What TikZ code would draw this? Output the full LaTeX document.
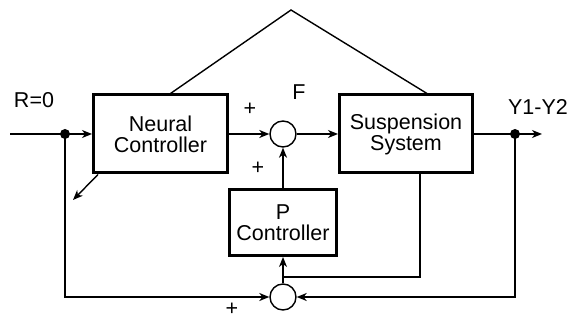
\documentclass[tikz,border=0pt]{standalone}
\usepackage{fontspec}
\setmainfont{Liberation Sans}
\usetikzlibrary{arrows.meta}

\begin{document}
\begin{tikzpicture}[x=1pt,y=-1pt,
  block/.style={draw,line width=3pt,align=center,inner sep=0pt},
  sumnode/.style={draw,circle,line width=1.4pt,minimum size=26pt,inner sep=0pt},
  dot/.style={circle,fill,inner sep=0pt,minimum size=10pt},
  >={Stealth[length=10pt,width=8pt,inset=3pt]},
  line width=1.4pt,
  font=\fontsize{21.5}{21}\selectfont]
  \useasboundingbox (0,0) rectangle (570,320);
  \node[block,minimum width=134pt,minimum height=78pt] (nc) at (160.5,134) {Neural\\Controller};
  \node[block,minimum width=133pt,minimum height=78pt] (ss) at (406,134) {Suspension\\System};
  \node[block,minimum width=107pt,minimum height=66pt] (pc) at (283,222.5) {P\\Controller};
  \node[sumnode] (s1) at (283,134) {};
  \node[sumnode] (s2) at (283,297) {};
  \node[dot] (d1) at (65,134) {};
  \node[dot] (d2) at (515,134) {};
  \coordinate (in) at (10,134);
  \coordinate (out) at (542,134);
  \coordinate (apex) at (291,10);
  \coordinate (da) at (73,200);
  \coordinate (j) at (283,277);
  \draw[->] (in) -- (nc.west);
  \draw[->] (nc.east) -- (s1.west);
  \draw[->] (s1.east) -- (ss.west);
  \draw[->] (ss.east) -- (out);
  \draw[->] (pc.north) -- (s1.south);
  \draw[->] (s2.north) -- (pc.south);
  \draw[->] (d1.center) |- (s2.west);
  \draw[->] (d2.center) |- (s2.east);
  \draw ([xshift=14pt]ss.south) |- (j);
  \draw ([xshift=10pt]nc.north) -- (apex) -- ([xshift=21pt]ss.north);
  \draw[->] ([xshift=6pt]nc.south west) -- (da);
  \node (r) at (34,100) {R=0};
  \node (f) at (299,92) {F};
  \node (y) at (538,107) {Y1-Y2};
  \node (p1) at (250,109) {+};
  \node (p2) at (258,168) {+};
  \node[inner sep=0pt] (p3) at (232,309) {+};
\end{tikzpicture}
\end{document}
